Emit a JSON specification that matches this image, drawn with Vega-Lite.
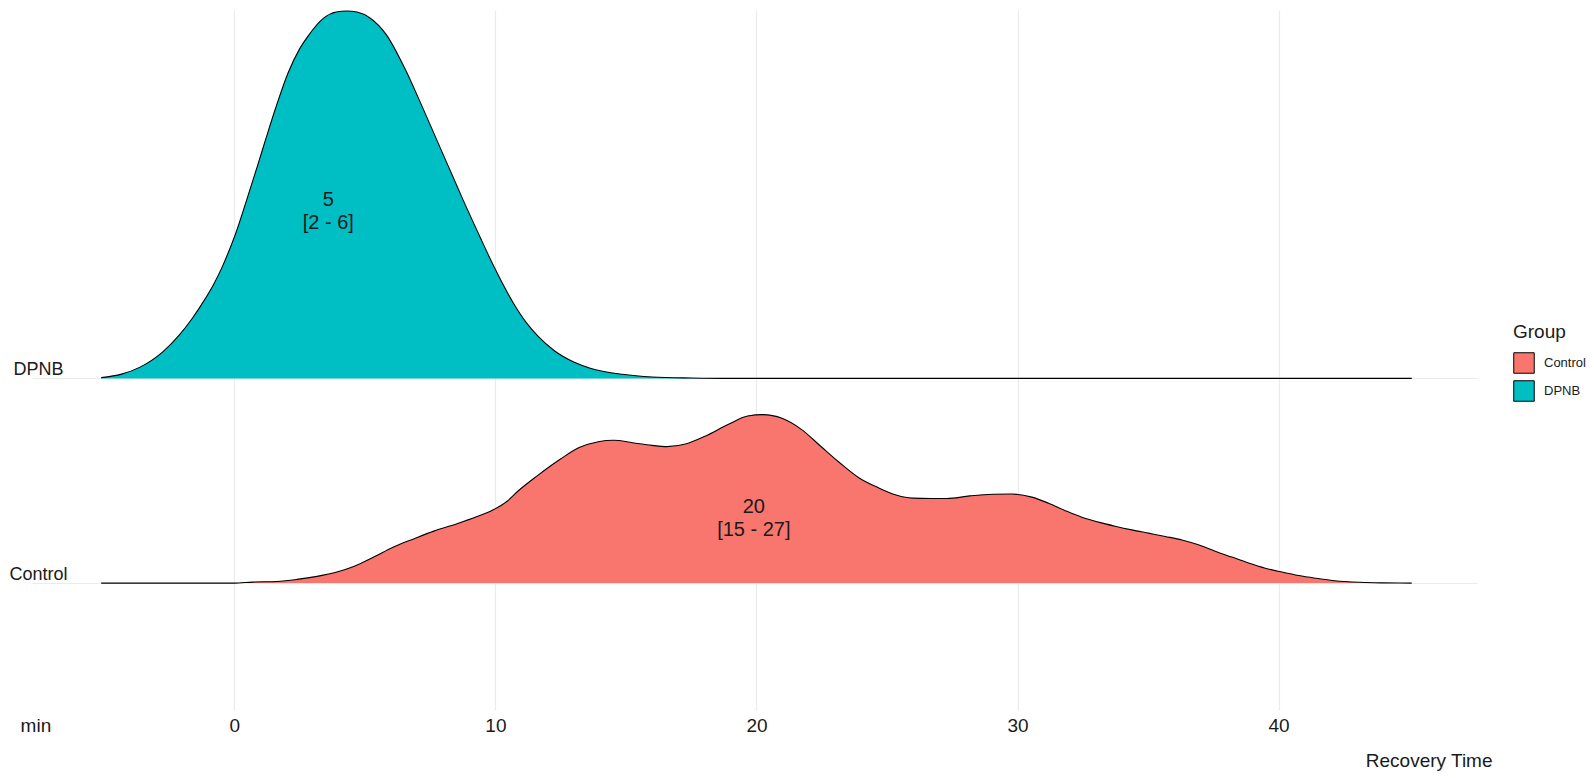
{
  "$schema": "https://vega.github.io/schema/vega-lite/v6.json",
  "width": 1445,
  "height": 700,
  "autosize": {"type": "none"},
  "padding": {"left": 32, "top": 10, "right": 117, "bottom": 68},
  "background": "white",
  "data": {
    "values": [
      {"group": "DPNB", "time": -5.1, "base": 2, "top": 2.004},
      {"group": "DPNB", "time": -4.32, "base": 2, "top": 2.021},
      {"group": "DPNB", "time": -3.63, "base": 2, "top": 2.054},
      {"group": "DPNB", "time": -2.74, "base": 2, "top": 2.13},
      {"group": "DPNB", "time": -2.12, "base": 2, "top": 2.21},
      {"group": "DPNB", "time": -1.6, "base": 2, "top": 2.295},
      {"group": "DPNB", "time": -1.16, "base": 2, "top": 2.38},
      {"group": "DPNB", "time": -0.8, "base": 2, "top": 2.458},
      {"group": "DPNB", "time": -0.48, "base": 2, "top": 2.54},
      {"group": "DPNB", "time": -0.2, "base": 2, "top": 2.625},
      {"group": "DPNB", "time": 0.07, "base": 2, "top": 2.715},
      {"group": "DPNB", "time": 0.48, "base": 2, "top": 2.875},
      {"group": "DPNB", "time": 0.89, "base": 2, "top": 3.04},
      {"group": "DPNB", "time": 1.23, "base": 2, "top": 3.18},
      {"group": "DPNB", "time": 1.58, "base": 2, "top": 3.32},
      {"group": "DPNB", "time": 2.05, "base": 2, "top": 3.49},
      {"group": "DPNB", "time": 2.5, "base": 2, "top": 3.61},
      {"group": "DPNB", "time": 2.81, "base": 2, "top": 3.67},
      {"group": "DPNB", "time": 3.42, "base": 2, "top": 3.76},
      {"group": "DPNB", "time": 3.9, "base": 2, "top": 3.79},
      {"group": "DPNB", "time": 4.3, "base": 2, "top": 3.795},
      {"group": "DPNB", "time": 4.7, "base": 2, "top": 3.79},
      {"group": "DPNB", "time": 5.21, "base": 2, "top": 3.76},
      {"group": "DPNB", "time": 5.82, "base": 2, "top": 3.68},
      {"group": "DPNB", "time": 6.51, "base": 2, "top": 3.52},
      {"group": "DPNB", "time": 7.12, "base": 2, "top": 3.35},
      {"group": "DPNB", "time": 7.67, "base": 2, "top": 3.19},
      {"group": "DPNB", "time": 8.22, "base": 2, "top": 3.03},
      {"group": "DPNB", "time": 8.77, "base": 2, "top": 2.87},
      {"group": "DPNB", "time": 9.38, "base": 2, "top": 2.7},
      {"group": "DPNB", "time": 9.93, "base": 2, "top": 2.55},
      {"group": "DPNB", "time": 10.68, "base": 2, "top": 2.37},
      {"group": "DPNB", "time": 11.2, "base": 2, "top": 2.27},
      {"group": "DPNB", "time": 11.64, "base": 2, "top": 2.205},
      {"group": "DPNB", "time": 12.26, "base": 2, "top": 2.135},
      {"group": "DPNB", "time": 13.0, "base": 2, "top": 2.08},
      {"group": "DPNB", "time": 13.63, "base": 2, "top": 2.05},
      {"group": "DPNB", "time": 14.86, "base": 2, "top": 2.02},
      {"group": "DPNB", "time": 16.0, "base": 2, "top": 2.007},
      {"group": "DPNB", "time": 17.5, "base": 2, "top": 2.002},
      {"group": "DPNB", "time": 19.0, "base": 2, "top": 2.0},
      {"group": "DPNB", "time": 30.0, "base": 2, "top": 2.0},
      {"group": "DPNB", "time": 45.1, "base": 2, "top": 2.0},
      {"group": "Control", "time": -5.1, "base": 1, "top": 1.0},
      {"group": "Control", "time": 0.0, "base": 1, "top": 1.0},
      {"group": "Control", "time": 0.68, "base": 1, "top": 1.005},
      {"group": "Control", "time": 1.63, "base": 1, "top": 1.008},
      {"group": "Control", "time": 2.4, "base": 1, "top": 1.018},
      {"group": "Control", "time": 3.17, "base": 1, "top": 1.033},
      {"group": "Control", "time": 3.93, "base": 1, "top": 1.054},
      {"group": "Control", "time": 4.57, "base": 1, "top": 1.081},
      {"group": "Control", "time": 5.34, "base": 1, "top": 1.127},
      {"group": "Control", "time": 6.1, "base": 1, "top": 1.176},
      {"group": "Control", "time": 6.87, "base": 1, "top": 1.216},
      {"group": "Control", "time": 7.64, "base": 1, "top": 1.254},
      {"group": "Control", "time": 8.53, "base": 1, "top": 1.29},
      {"group": "Control", "time": 9.3, "base": 1, "top": 1.325},
      {"group": "Control", "time": 9.81, "base": 1, "top": 1.351},
      {"group": "Control", "time": 10.45, "base": 1, "top": 1.4},
      {"group": "Control", "time": 10.87, "base": 1, "top": 1.45},
      {"group": "Control", "time": 11.6, "base": 1, "top": 1.524},
      {"group": "Control", "time": 12.48, "base": 1, "top": 1.605},
      {"group": "Control", "time": 13.21, "base": 1, "top": 1.662},
      {"group": "Control", "time": 13.94, "base": 1, "top": 1.691},
      {"group": "Control", "time": 14.53, "base": 1, "top": 1.698},
      {"group": "Control", "time": 15.26, "base": 1, "top": 1.686},
      {"group": "Control", "time": 15.99, "base": 1, "top": 1.673},
      {"group": "Control", "time": 16.58, "base": 1, "top": 1.667},
      {"group": "Control", "time": 17.32, "base": 1, "top": 1.681},
      {"group": "Control", "time": 18.05, "base": 1, "top": 1.719},
      {"group": "Control", "time": 18.93, "base": 1, "top": 1.776},
      {"group": "Control", "time": 19.66, "base": 1, "top": 1.816},
      {"group": "Control", "time": 20.25, "base": 1, "top": 1.823},
      {"group": "Control", "time": 20.98, "base": 1, "top": 1.805},
      {"group": "Control", "time": 21.72, "base": 1, "top": 1.751},
      {"group": "Control", "time": 22.45, "base": 1, "top": 1.67},
      {"group": "Control", "time": 23.18, "base": 1, "top": 1.589},
      {"group": "Control", "time": 23.92, "base": 1, "top": 1.515},
      {"group": "Control", "time": 24.65, "base": 1, "top": 1.467},
      {"group": "Control", "time": 25.38, "base": 1, "top": 1.429},
      {"group": "Control", "time": 25.97, "base": 1, "top": 1.415},
      {"group": "Control", "time": 26.7, "base": 1, "top": 1.413},
      {"group": "Control", "time": 27.29, "base": 1, "top": 1.413},
      {"group": "Control", "time": 28.17, "base": 1, "top": 1.426},
      {"group": "Control", "time": 29.05, "base": 1, "top": 1.434},
      {"group": "Control", "time": 29.78, "base": 1, "top": 1.435},
      {"group": "Control", "time": 30.55, "base": 1, "top": 1.42},
      {"group": "Control", "time": 31.19, "base": 1, "top": 1.39},
      {"group": "Control", "time": 31.83, "base": 1, "top": 1.354},
      {"group": "Control", "time": 32.46, "base": 1, "top": 1.322},
      {"group": "Control", "time": 33.1, "base": 1, "top": 1.298},
      {"group": "Control", "time": 33.74, "base": 1, "top": 1.278},
      {"group": "Control", "time": 34.38, "base": 1, "top": 1.26},
      {"group": "Control", "time": 35.02, "base": 1, "top": 1.244},
      {"group": "Control", "time": 35.66, "base": 1, "top": 1.228},
      {"group": "Control", "time": 36.3, "base": 1, "top": 1.211},
      {"group": "Control", "time": 36.93, "base": 1, "top": 1.187},
      {"group": "Control", "time": 37.57, "base": 1, "top": 1.156},
      {"group": "Control", "time": 38.21, "base": 1, "top": 1.127},
      {"group": "Control", "time": 38.85, "base": 1, "top": 1.098},
      {"group": "Control", "time": 39.49, "base": 1, "top": 1.073},
      {"group": "Control", "time": 40.13, "base": 1, "top": 1.054},
      {"group": "Control", "time": 40.77, "base": 1, "top": 1.037},
      {"group": "Control", "time": 41.41, "base": 1, "top": 1.024},
      {"group": "Control", "time": 42.05, "base": 1, "top": 1.013},
      {"group": "Control", "time": 42.68, "base": 1, "top": 1.0065},
      {"group": "Control", "time": 43.32, "base": 1, "top": 1.003},
      {"group": "Control", "time": 43.96, "base": 1, "top": 1.001},
      {"group": "Control", "time": 45.1, "base": 1, "top": 1.0}
    ]
  },
  "layer": [
    {
      "mark": {"type": "area", "interpolate": "monotone", "opacity": 1},
      "encoding": {
        "x": {
          "field": "time",
          "type": "quantitative",
          "scale": {"domain": [-7.75, 47.6], "nice": false, "zero": false},
          "axis": {
            "values": [0, 10, 20, 30, 40],
            "title": "Recovery Time",
            "titleX": 1460,
            "titleY": 56,
            "titleAlign": "right",
            "titleBaseline": "alphabetic",
            "labelPadding": 6
          }
        },
        "y": {
          "field": "top",
          "type": "quantitative",
          "scale": {"domain": [0.38, 3.8], "nice": false, "zero": false},
          "axis": {
            "values": [1, 2],
            "title": null,
            "labelExpr": "datum.value == 1 ? 'Control' : 'DPNB'",
            "labelAlign": "center",
            "labelBaseline": "bottom",
            "labelPadding": -6,
            "labelFontSize": 18
          }
        },
        "y2": {"field": "base"},
        "color": {
          "field": "group",
          "type": "nominal",
          "scale": {"domain": ["Control", "DPNB"], "range": ["#F8766D", "#00BFC4"]},
          "legend": {
            "title": "Group",
            "orient": "none",
            "legendX": 1481,
            "legendY": 313,
            "symbolType": "square",
            "symbolSize": 420,
            "symbolStrokeColor": "black",
            "symbolStrokeWidth": 1,
            "symbolOpacity": 1,
            "titleFontSize": 19,
            "titleFontWeight": "normal",
            "titlePadding": 10,
            "labelFontSize": 13,
            "labelOffset": 9,
            "rowPadding": 2,
            "padding": 0
          }
        }
      }
    },
    {
      "mark": {"type": "line", "interpolate": "monotone", "color": "black", "strokeWidth": 1.1},
      "encoding": {
        "x": {"field": "time", "type": "quantitative"},
        "y": {"field": "top", "type": "quantitative"},
        "detail": {"field": "group"}
      }
    },
    {
      "data": {
        "values": [
          {"time": 3.6, "level": 2.873, "label": "5\n[2 - 6]"},
          {"time": 19.9, "level": 1.371, "label": "20\n[15 - 27]"}
        ]
      },
      "mark": {
        "type": "text",
        "lineBreak": "\n",
        "fontSize": 20,
        "lineHeight": 23,
        "align": "center",
        "baseline": "middle",
        "color": "#1a1a1a"
      },
      "encoding": {
        "x": {"field": "time", "type": "quantitative"},
        "y": {"field": "level", "type": "quantitative"},
        "text": {"field": "label"}
      }
    },
    {
      "data": {"values": [{"time": -7.6, "label": "min"}]},
      "mark": {
        "type": "text",
        "fontSize": 19,
        "align": "center",
        "baseline": "middle",
        "dy": 16,
        "color": "#1a1a1a"
      },
      "encoding": {
        "x": {"field": "time", "type": "quantitative"},
        "y": {"datum": 0.38},
        "text": {"field": "label"}
      }
    }
  ],
  "config": {
    "font": "Liberation Sans",
    "view": {"stroke": null},
    "axis": {
      "domain": false,
      "ticks": false,
      "tickSize": 0,
      "grid": true,
      "gridColor": "#EBEBEB",
      "gridWidth": 1.2,
      "labelFontSize": 19,
      "labelColor": "#1a1a1a",
      "titleFontSize": 19,
      "titleFontWeight": "normal",
      "titleColor": "#1a1a1a"
    },
    "legend": {
      "labelColor": "#1a1a1a",
      "titleColor": "#1a1a1a"
    }
  }
}
